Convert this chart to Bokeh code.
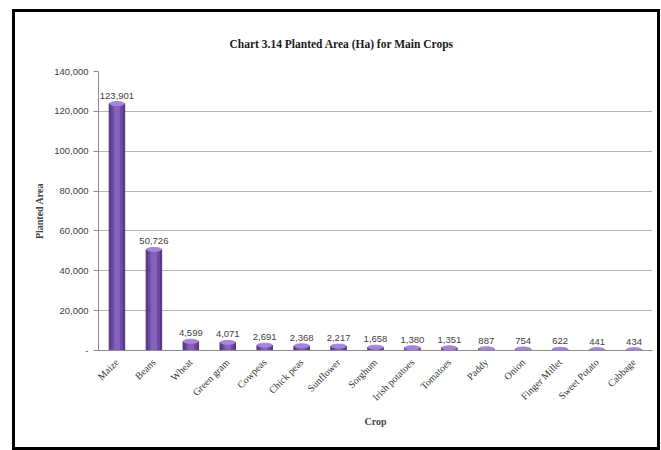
import math
from bokeh.plotting import figure
from bokeh.models import ColumnDataSource, NumeralTickFormatter, FixedTicker, LabelSet
from bokeh.core.properties import value
from bokeh.embed import file_html
from bokeh.resources import INLINE

crops = ["Maize", "Beans", "Wheat", "Green gram", "Cowpeas", "Chick peas", "Sunflower",
         "Sorghum", "Irish potatoes", "Tomatoes", "Paddy", "Onion", "Finger Millet",
         "Sweet Potato", "Cabbage"]
areas = [123901, 50726, 4599, 4071, 2691, 2368, 2217, 1658, 1380, 1351, 887, 754, 622, 441, 434]
y_ticks = [0, 20000, 40000, 60000, 80000, 100000, 120000, 140000]

src = ColumnDataSource(dict(crop=crops, area=areas, label=[f"{v:,}" for v in areas]))

p = figure(x_range=crops, y_range=(0, 140000), width=642, height=435,
           output_backend="svg", toolbar_location=None,
           min_border_left=83, min_border_right=11, min_border_top=59, min_border_bottom=103)
p.styles = {"border": "3px solid #000000", "box-sizing": "content-box",
            "margin-left": "12px", "margin-top": "9px"}
p.outline_line_color = None
p.background_fill_color = "white"
p.border_fill_color = "white"

p.title.text = "Chart 3.14 Planted Area (Ha) for Main Crops"
p.title.text_font = "Liberation Serif"
p.title.text_font_size = "11.5px"
p.title.text_font_style = "bold"
p.title.text_color = "#1a1a1a"
p.title.align = "left"
p.title.offset = 131
p.title.standoff = 44

# bars with cylinder-like shading
p.vbar(x="crop", top="area", width=0.42, color="#553683", source=src)
p.vbar(x="crop", top="area", width=0.30, color="#6c48a1", source=src)
p.vbar(x="crop", top="area", width=0.15, color="#8563bb", source=src)
p.ellipse(x="crop", y="area", width=0.40, height=4, height_units="screen",
          color="#a586d6", source=src)

labels = LabelSet(x="crop", y="area", text="label", y_offset=5, source=src,
                  text_align="center", text_baseline="bottom",
                  text_font=value("Liberation Sans"), text_font_size="9.5px",
                  text_color="#404040")
p.add_layout(labels)

p.ygrid.grid_line_color = "#b5b5b5"
p.xgrid.grid_line_color = None

p.yaxis.ticker = FixedTicker(ticks=y_ticks)
p.yaxis.formatter = NumeralTickFormatter(format="0,0")
p.yaxis.major_label_overrides = {0: "-"}
p.yaxis.axis_label = "Planted Area"
p.yaxis.axis_label_text_font = "Liberation Serif"
p.yaxis.axis_label_text_font_style = "bold"
p.yaxis.axis_label_text_font_size = "10px"
p.yaxis.axis_label_standoff = 6
p.yaxis.major_label_text_font = "Liberation Sans"
p.yaxis.major_label_text_font_size = "9.5px"
p.yaxis.major_label_text_color = "#404040"
p.yaxis.minor_tick_line_color = None
p.yaxis.major_tick_in = 0
p.yaxis.major_tick_out = 5
p.yaxis.major_tick_line_color = "#8c8c8c"

p.xaxis.axis_label = "Crop"
p.xaxis.axis_label_text_font = "Liberation Serif"
p.xaxis.axis_label_text_font_style = "bold"
p.xaxis.axis_label_text_font_size = "10px"
p.xaxis.axis_label_standoff = 6
p.xaxis.major_label_orientation = math.pi / 4
p.xaxis.major_label_text_font = "Liberation Serif"
p.xaxis.major_label_text_font_size = "10px"
p.xaxis.major_label_text_color = "#333333"
p.xaxis.major_label_standoff = 4
p.xaxis.major_tick_line_color = None

p.xaxis.axis_line_color = "#8c8c8c"
p.yaxis.axis_line_color = "#8c8c8c"

open("out.html", "w").write(file_html(p, INLINE))
